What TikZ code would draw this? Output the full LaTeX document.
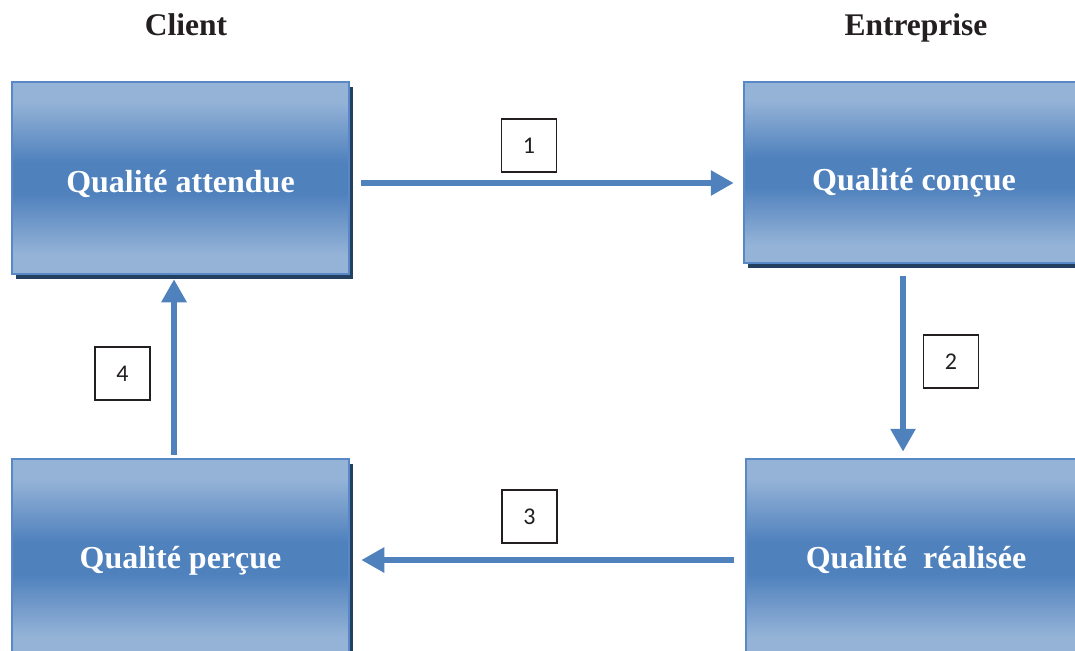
\documentclass[tikz,border=0pt]{standalone}
\usepackage{fontspec}
\setmainfont{Liberation Serif}
\newfontfamily\numfont{Carlito}
\usetikzlibrary{arrows.meta}
\definecolor{lightb}{RGB}{149,179,215}
\definecolor{midb}{RGB}{79,129,189}
\definecolor{edgeb}{RGB}{88,137,198}
\definecolor{shadowc}{RGB}{36,64,96}
\definecolor{titlec}{RGB}{35,31,32}
\definecolor{numc}{RGB}{35,31,32}
\pgfdeclareverticalshading{boxshade}{100bp}{color(0bp)=(lightb); color(25bp)=(lightb); color(30bp)=(lightb); color(46bp)=(midb); color(54bp)=(midb); color(70bp)=(lightb); color(75bp)=(lightb); color(100bp)=(lightb)}
\tikzset{
  qbox/.style={rectangle, shading=boxshade, draw=edgeb, line width=2.5pt,
    preaction={fill=shadowc, transform canvas={xshift=4pt,yshift=-5pt}},
    text=white, font=\fontsize{32}{36}\selectfont\bfseries, inner sep=0pt, text depth=0pt},
  numbox/.style={rectangle, draw=numc, line width=1.3pt, minimum width=55pt, minimum height=53pt,
    font=\numfont\fontsize{24}{28}\selectfont, text=numc, inner sep=0pt},
  title/.style={anchor=base, font=\fontsize{31.5}{36}\selectfont\bfseries, text=titlec},
  arr/.style={draw=midb, line width=6pt, -{Triangle[width=24pt,length=23pt]}}
}
\begin{document}
\begin{tikzpicture}[x=1pt,y=-1pt]
\useasboundingbox (0,0) rectangle (1075,650);
\clip (0,0) rectangle (1075,650);
\node[title] (tc) at (186,36) {Client};
\node[title] (te) at (916,36) {Entreprise};
\node[qbox, minimum width=337pt, minimum height=192pt, text height=28pt] (qa) at (180.5,178) {Qualité attendue};
\node[qbox, minimum width=340pt, minimum height=181pt, text height=36pt] (qc) at (914,172.5) {Qualité conçue};
\node[qbox, minimum width=340pt, minimum height=198pt, text height=20pt] (qr) at (916,558) {Qualité\ \ réalisée};
\node[qbox, minimum width=337pt, minimum height=198pt, text height=20pt] (qp) at (180.5,558) {Qualité perçue};
\node[numbox] (n1) at (529,145.5) {1};
\node[numbox] (n2) at (951,361.5) {2};
\node[numbox] (n3) at (529.5,516.5) {3};
\node[numbox] (n4) at (122.5,373.5) {4};
\draw[arr, shorten <=11pt, shorten >=9pt] ([yshift=-5pt]qa.east) -- ([yshift=-10.5pt]qc.west);
\draw[arr, shorten <=12pt, shorten >=6pt] ([xshift=-11pt]qc.south) -- ([xshift=-13pt]qr.north);
\draw[arr, shorten <=11pt, shorten >=11pt] ([yshift=-2pt]qr.west) -- ([yshift=-2pt]qp.east);
\draw[arr, shorten <=3pt, shorten >=4pt] ([xshift=-6.5pt]qp.north) -- ([xshift=-6.5pt]qa.south);
\end{tikzpicture}
\end{document}
